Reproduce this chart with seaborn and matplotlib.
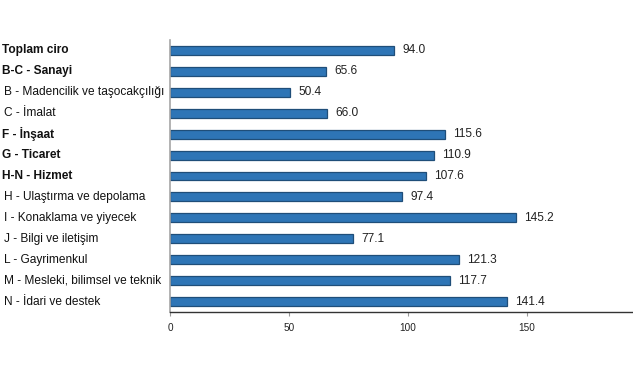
import matplotlib
matplotlib.use("Agg")
import matplotlib.pyplot as plt
import matplotlib.transforms as mtransforms
import seaborn as sns
import pandas as pd

categories = [
    "Toplam ciro",
    "B-C - Sanayi",
    "B - Madencilik ve taşocakçılığı",
    "C - İmalat",
    "F - İnşaat",
    "G - Ticaret",
    "H-N - Hizmet",
    "H - Ulaştırma ve depolama",
    "I - Konaklama ve yiyecek",
    "J - Bilgi ve iletişim",
    "L - Gayrimenkul",
    "M - Mesleki, bilimsel ve teknik",
    "N - İdari ve destek",
]
is_main = [True, True, False, False, True, True, True,
           False, False, False, False, False, False]
values = [94.0, 65.6, 50.4, 66.0, 115.6, 110.9, 107.6,
          97.4, 145.2, 77.1, 121.3, 117.7, 141.4]
x_ticks = [0, 50, 100, 150]

df = pd.DataFrame({"cat": categories, "val": values})

sns.set_theme(style="white")
plt.rcParams["font.family"] = ["Liberation Sans", "DejaVu Sans"]

W, H = 633, 375
fig = plt.figure(figsize=(W / 100, H / 100), dpi=100)
ax = fig.add_axes([170 / W, (H - 312) / H, 476 / W, 272 / H])

sns.barplot(data=df, y="cat", x="val", orient="h", ax=ax,
            color="#2E75B6", saturation=1, width=0.43,
            edgecolor="#1F4E79", linewidth=0.9)

ax.set_xlim(0, 200)
ax.set_ylim(len(categories) - 0.5, -0.5)
ax.set_xticks(x_ticks)
ax.set_xticklabels([str(t) for t in x_ticks], fontsize=7.2, color="#222222")
ax.tick_params(axis="x", length=3, width=0.8, color="#999999", pad=5, bottom=True)
ax.set_yticks([])
ax.set_xlabel("")
ax.set_ylabel("")

for s in ["top", "right"]:
    ax.spines[s].set_visible(False)
ax.spines["left"].set_color("#a6a6a6")
ax.spines["left"].set_linewidth(1.2)
ax.spines["bottom"].set_color("#333333")
ax.spines["bottom"].set_linewidth(1.0)

for c in ax.containers:
    ax.bar_label(c, fmt="%.1f", padding=6, fontsize=8.6, color="#222222")

trans = mtransforms.blended_transform_factory(fig.transFigure, ax.transData)
for i, (name, main) in enumerate(zip(categories, is_main)):
    xpos = (2 if main else 4) / W
    ax.text(xpos, i, name, transform=trans, ha="left", va="center",
            fontsize=8.6, fontweight="bold" if main else "normal",
            color="#111111", clip_on=False)

fig.savefig("out.png", dpi=100)
